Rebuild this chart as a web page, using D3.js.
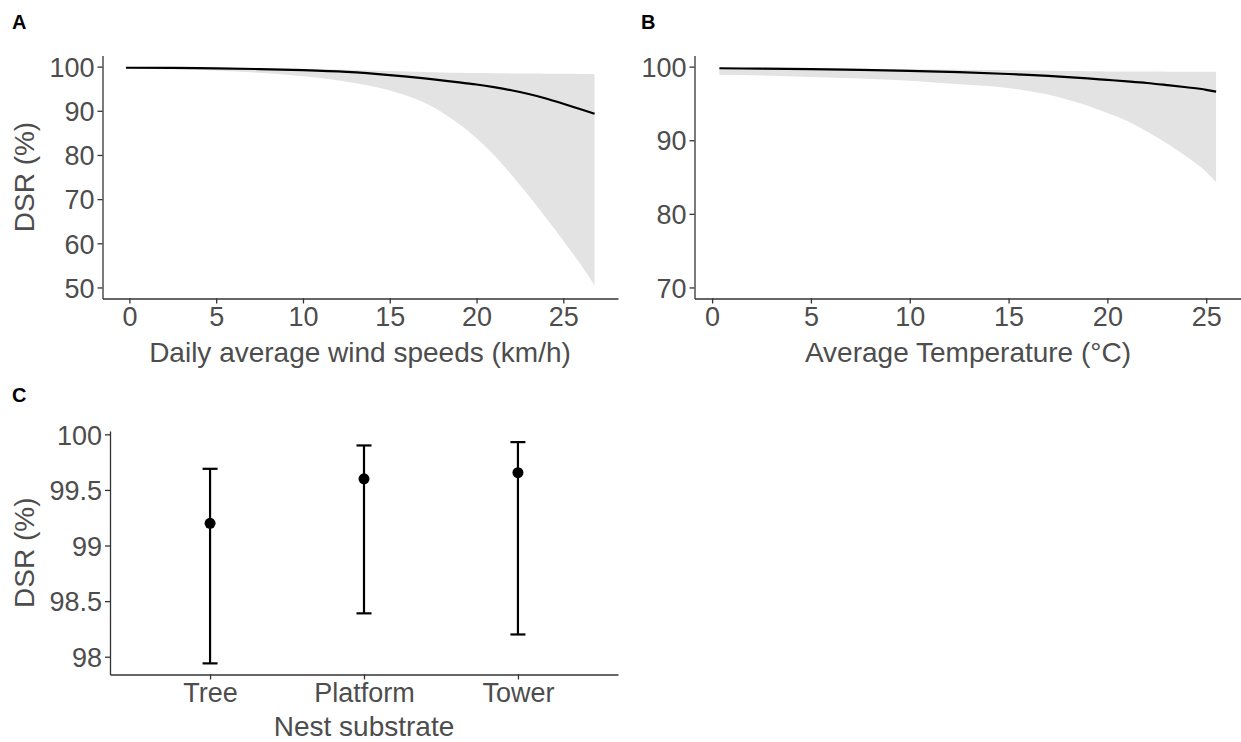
<!DOCTYPE html>
<html>
<head>
<meta charset="utf-8">
<script src="https://cdn.jsdelivr.net/npm/d3@7"></script>
<style>
  html, body { margin: 0; padding: 0; background: #fff; }
  svg { display: block; font-family: "Liberation Sans", Arial, Helvetica, sans-serif; }
</style>
</head>
<body>
<svg id="chart" width="1241" height="742"></svg>
<script>
// ---------- Data ----------
// Panel A: DSR vs daily average wind speed
const windX      = [-0.2, 2.5, 5, 7.5, 10, 12.5, 15, 16, 17, 18, 19, 20, 21, 22, 23, 24, 25, 26, 26.8];
const windFit    = [99.75, 99.7, 99.6, 99.45, 99.2, 98.8, 98.1, 97.75, 97.35, 96.9, 96.45, 95.95, 95.35, 94.65, 93.8, 92.8, 91.6, 90.35, 89.35];
const windLower  = [99.6, 99.4, 99.1, 98.6, 97.8, 96.6, 94.6, 93.4, 91.8, 89.7, 87.0, 83.8, 80.0, 75.6, 70.8, 65.8, 60.6, 55.2, 50.45];
const windUpper  = [99.85, 99.82, 99.75, 99.65, 99.5, 99.3, 99.0, 98.9, 98.8, 98.7, 98.62, 98.55, 98.5, 98.46, 98.43, 98.4, 98.37, 98.33, 98.3];
const windTicks  = [0, 5, 10, 15, 20, 25];
const windYTicks = [50, 60, 70, 80, 90, 100];

// Panel B: DSR vs average temperature
const tempX      = [0.37, 2.5, 5, 7.5, 10, 12.5, 15, 16, 17, 18, 19, 20, 21, 22, 23, 24, 25, 25.5];
const tempFit    = [99.78, 99.72, 99.65, 99.55, 99.42, 99.25, 99.0, 98.88, 98.74, 98.58, 98.4, 98.2, 98.0, 97.78, 97.5, 97.2, 96.85, 96.6];
const tempLower  = [98.9, 98.8, 98.6, 98.4, 98.1, 97.6, 97.1, 96.7, 96.2, 95.5, 94.7, 93.7, 92.6, 91.2, 89.6, 87.8, 85.7, 84.3];
const tempUpper  = [99.85, 99.83, 99.8, 99.72, 99.65, 99.58, 99.5, 99.47, 99.44, 99.41, 99.38, 99.35, 99.34, 99.33, 99.32, 99.31, 99.3, 99.3];
const tempTicks  = [0, 5, 10, 15, 20, 25];
const tempYTicks = [70, 80, 90, 100];

// Panel C: DSR by nest substrate
const substrates = ["Tree", "Platform", "Tower"];
const subEst     = [99.2, 99.6, 99.655];
const subLower   = [97.94, 98.39, 98.20];
const subUpper   = [99.69, 99.90, 99.93];
const subYTicks  = [98, 98.5, 99, 99.5, 100];

// ---------- Drawing ----------
const svg = d3.select("#chart");
const AXIS_COL = "#333333";
const TEXT_COL = "#4d4d4d";
const RIBBON = "#e3e3e3";
const TICK_FS = 27;
const TITLE_FS = 28;

function styleAxis(g) {
  g.select(".domain").attr("stroke", AXIS_COL).attr("stroke-width", 1.3);
  g.selectAll(".tick line").attr("stroke", AXIS_COL).attr("stroke-width", 1.3);
  g.selectAll(".tick text").attr("fill", TEXT_COL).attr("font-size", TICK_FS)
    .attr("font-family", "'Liberation Sans', Arial, sans-serif");
}

function panelLetter(txt, x, y) {
  svg.append("text").attr("x", x).attr("y", y).text(txt)
    .attr("font-weight", "bold").attr("font-size", 20).attr("fill", "#000");
}

function curvePanel(opt) {
  const x = d3.scaleLinear().domain(opt.xDomain).range([opt.left, opt.right]);
  const y = d3.scaleLinear().domain(opt.yDomain).range([opt.bottom, opt.top]);
  const g = svg.append("g");
  const pts = opt.xs.map((v, i) => ({x: v, fit: opt.fit[i], lo: opt.lo[i], hi: opt.hi[i]}));
  g.append("path").datum(pts)
    .attr("d", d3.area().curve(d3.curveMonotoneX).x(d => x(d.x)).y0(d => y(d.lo)).y1(d => y(d.hi)))
    .attr("fill", RIBBON);
  g.append("path").datum(pts)
    .attr("d", d3.line().curve(d3.curveMonotoneX).x(d => x(d.x)).y(d => y(d.fit)))
    .attr("fill", "none").attr("stroke", "#000").attr("stroke-width", 2.2);
  const ax = g.append("g").attr("transform", `translate(0,${opt.bottom})`)
    .call(d3.axisBottom(x).tickValues(opt.xTicks).tickSize(5).tickPadding(3).tickSizeOuter(0));
  styleAxis(ax);
  const ay = g.append("g").attr("transform", `translate(${opt.left},0)`)
    .call(d3.axisLeft(y).tickValues(opt.yTicks).tickSize(5).tickPadding(3).tickSizeOuter(0));
  styleAxis(ay);
  ay.selectAll(".tick text").attr("dy", "0.36em");
  g.append("text").attr("x", opt.xTitleX).attr("y", opt.xTitleY).attr("text-anchor", "middle")
    .attr("fill", TEXT_COL).attr("font-size", TITLE_FS).text(opt.xTitle);
  if (opt.yTitle) {
    g.append("text").attr("transform", `translate(${opt.yTitleX},${(opt.top + opt.bottom) / 2}) rotate(-90)`)
      .attr("text-anchor", "middle").attr("fill", TEXT_COL).attr("font-size", TITLE_FS).text(opt.yTitle);
  }
}

curvePanel({
  xs: windX, fit: windFit, lo: windLower, hi: windUpper,
  xDomain: [-1.55, 28.15], yDomain: [47.5, 102.5],
  left: 102.5, right: 618, top: 55.6, bottom: 298.5,
  xTicks: windTicks, yTicks: windYTicks,
  xTitle: "Daily average wind speeds (km/h)", xTitleX: 360, xTitleY: 362,
  yTitle: "DSR (%)", yTitleX: 34
});

curvePanel({
  xs: tempX, fit: tempFit, lo: tempLower, hi: tempUpper,
  xDomain: [-0.89, 26.76], yDomain: [68.5, 101.5],
  left: 694.5, right: 1241, top: 55.6, bottom: 298.5,
  xTicks: tempTicks, yTicks: tempYTicks,
  xTitle: "Average Temperature (°C)", xTitleX: 968, xTitleY: 362,
  yTitle: null
});

// Panel C
(function() {
  const left = 110, right = 618, top = 431, bottom = 674.5;
  const x = d3.scaleLinear().domain([0.35, 3.65]).range([left, right]);
  const y = d3.scaleLinear().domain([97.84, 100.03]).range([bottom, top]);
  const g = svg.append("g");
  const data = substrates.map((s, i) => ({s, i: i + 1, est: subEst[i], lo: subLower[i], hi: subUpper[i]}));
  const cap = 7.5;
  const eb = g.selectAll(".eb").data(data).enter().append("g");
  eb.append("line").attr("x1", d => x(d.i)).attr("x2", d => x(d.i))
    .attr("y1", d => y(d.lo)).attr("y2", d => y(d.hi)).attr("stroke", "#000").attr("stroke-width", 2.2);
  eb.append("line").attr("x1", d => x(d.i) - cap).attr("x2", d => x(d.i) + cap)
    .attr("y1", d => y(d.hi)).attr("y2", d => y(d.hi)).attr("stroke", "#000").attr("stroke-width", 2.2);
  eb.append("line").attr("x1", d => x(d.i) - cap).attr("x2", d => x(d.i) + cap)
    .attr("y1", d => y(d.lo)).attr("y2", d => y(d.lo)).attr("stroke", "#000").attr("stroke-width", 2.2);
  eb.append("circle").attr("cx", d => x(d.i)).attr("cy", d => y(d.est)).attr("r", 5.5).attr("fill", "#000");

  const ax = g.append("g").attr("transform", `translate(0,${bottom})`)
    .call(d3.axisBottom(x).tickValues([1, 2, 3]).tickFormat(d => substrates[d - 1]).tickSize(5).tickPadding(3).tickSizeOuter(0));
  styleAxis(ax);
  const ay = g.append("g").attr("transform", `translate(${left},0)`)
    .call(d3.axisLeft(y).tickValues(subYTicks).tickFormat(d3.format("~g")).tickSize(5).tickPadding(3).tickSizeOuter(0));
  styleAxis(ay);
  ay.selectAll(".tick text").attr("dy", "0.36em");
  g.append("text").attr("x", 364).attr("y", 736).attr("text-anchor", "middle")
    .attr("fill", TEXT_COL).attr("font-size", TITLE_FS).text("Nest substrate");
  g.append("text").attr("transform", `translate(34,${(top + bottom) / 2}) rotate(-90)`)
    .attr("text-anchor", "middle").attr("fill", TEXT_COL).attr("font-size", TITLE_FS).text("DSR (%)");
})();

panelLetter("A", 12, 29);
panelLetter("B", 641, 29);
panelLetter("C", 12, 402);
</script>
</body>
</html>
